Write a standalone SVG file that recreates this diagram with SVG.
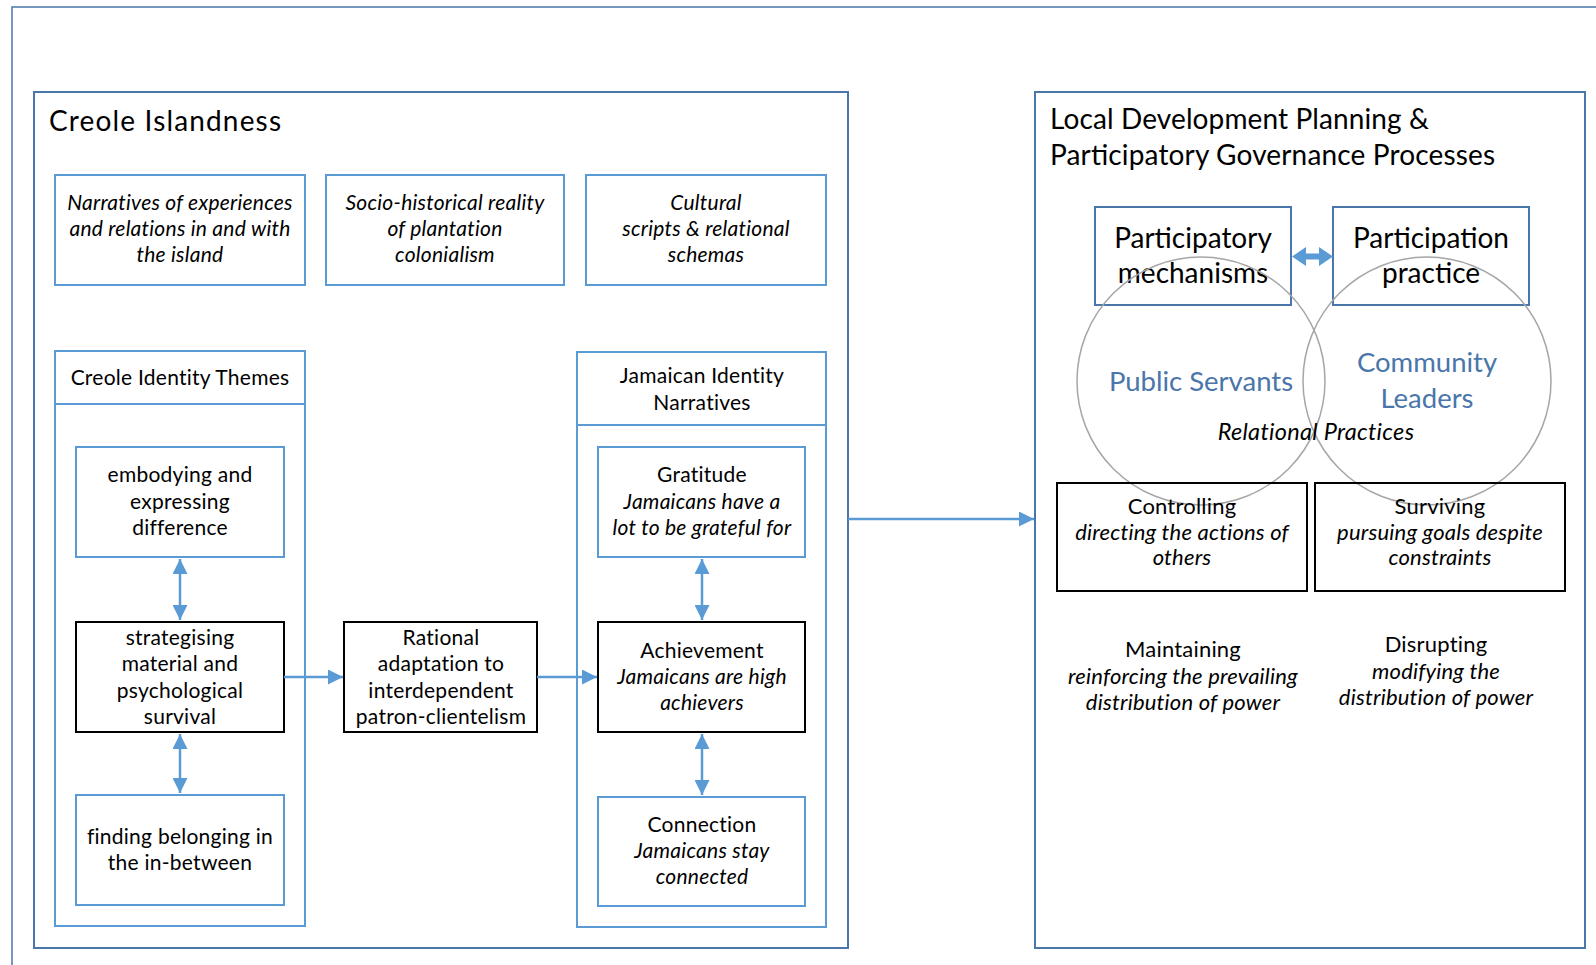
<svg xmlns="http://www.w3.org/2000/svg" width="1596" height="965" viewBox="0 0 1596 965">
  <defs>
    <style>
      .frame { fill: #fff; stroke: #4a76aa; stroke-width: 2; }
      .blue { fill: #fff; stroke: #5b9bd5; stroke-width: 2; }
      .dark { fill: #fff; stroke: #000; stroke-width: 2; }
      .circle { fill: none; stroke: #a6a6a6; stroke-width: 1.5; }
      .conn { stroke: #5b9bd5; stroke-width: 2.5; fill: none; }
      text { font-family: Lato, "Liberation Sans", sans-serif; fill: #000; }
      .t { font-size: 21px; letter-spacing: 0.25px; text-anchor: middle; }
      .r { font-size: 22px; letter-spacing: 0.2px; text-anchor: middle; }
      .i { font-style: italic; }
      .title { font-size: 28px; }
      .big { font-size: 28px; text-anchor: middle; }
      .role { font-size: 27.5px; text-anchor: middle; fill: #4a76aa; }
    </style>
    <marker id="head" viewBox="0 0 10 10" refX="10" refY="5" markerWidth="6" markerHeight="6" markerUnits="strokeWidth" orient="auto-start-reverse">
      <path d="M0,0 L10,5 L0,10 z" fill="#5b9bd5"/>
    </marker>
  </defs>

  <rect width="1596" height="965" fill="#fff"/>

  <!-- outer page frame -->
  <path d="M12,965 V7 H1596" fill="none" stroke="#4a76aa" stroke-width="1.5"/>

  <!-- Creole Islandness panel -->
  <g id="creole-islandness">
    <rect class="frame" x="34" y="92" width="814" height="856"/>
    <text class="title" x="49" y="131" textLength="232" lengthAdjust="spacing">Creole Islandness</text>
  </g>

  <g id="narratives">
    <rect class="blue" x="55" y="175" width="250" height="110"/>
    <text class="t i" x="180" y="210">Narratives of experiences</text>
    <text class="t i" x="180" y="236">and relations in and with</text>
    <text class="t i" x="180" y="262">the island</text>
  </g>

  <g id="socio-historical">
    <rect class="blue" x="326" y="175" width="238" height="110"/>
    <text class="t i" x="445" y="210">Socio-historical reality</text>
    <text class="t i" x="445" y="236">of plantation</text>
    <text class="t i" x="445" y="262">colonialism</text>
  </g>

  <g id="cultural-scripts">
    <rect class="blue" x="586" y="175" width="240" height="110"/>
    <text class="t i" x="706" y="210">Cultural</text>
    <text class="t i" x="706" y="236">scripts &amp; relational</text>
    <text class="t i" x="706" y="262">schemas</text>
  </g>

  <g id="creole-identity-themes">
    <rect class="blue" x="55" y="351" width="250" height="575"/>
    <line x1="55" y1="404" x2="305" y2="404" stroke="#5b9bd5" stroke-width="2"/>
    <text class="t" x="180" y="385">Creole Identity Themes</text>
  </g>

  <g id="jamaican-identity-narratives">
    <rect class="blue" x="577" y="352" width="249" height="575"/>
    <line x1="577" y1="425" x2="826" y2="425" stroke="#5b9bd5" stroke-width="2"/>
    <text class="t" x="702" y="383">Jamaican Identity</text>
    <text class="t" x="702" y="410">Narratives</text>
  </g>

  <g id="embodying">
    <rect class="blue" x="76" y="447" width="208" height="110"/>
    <text class="t" x="180" y="482">embodying and</text>
    <text class="t" x="180" y="509">expressing</text>
    <text class="t" x="180" y="535">difference</text>
  </g>

  <g id="strategising">
    <rect class="dark" x="76" y="622" width="208" height="110"/>
    <text class="t" x="180" y="645">strategising</text>
    <text class="t" x="180" y="671">material and</text>
    <text class="t" x="180" y="698">psychological</text>
    <text class="t" x="180" y="724">survival</text>
  </g>

  <g id="finding-belonging">
    <rect class="blue" x="76" y="795" width="208" height="110"/>
    <text class="t" x="180" y="844">finding belonging in</text>
    <text class="t" x="180" y="870">the in-between</text>
  </g>

  <g id="rational-adaptation">
    <rect class="dark" x="344" y="622" width="193" height="110"/>
    <text class="t" x="441" y="645">Rational</text>
    <text class="t" x="441" y="671">adaptation to</text>
    <text class="t" x="441" y="698">interdependent</text>
    <text class="t" x="441" y="724">patron-clientelism</text>
  </g>

  <g id="gratitude">
    <rect class="blue" x="598" y="447" width="207" height="110"/>
    <text class="t" x="702" y="482">Gratitude</text>
    <text class="t i" x="702" y="509">Jamaicans have a</text>
    <text class="t i" x="702" y="535">lot to be grateful for</text>
  </g>

  <g id="achievement">
    <rect class="dark" x="598" y="622" width="207" height="110"/>
    <text class="t" x="702" y="658">Achievement</text>
    <text class="t i" x="702" y="684">Jamaicans are high</text>
    <text class="t i" x="702" y="710">achievers</text>
  </g>

  <g id="connection">
    <rect class="blue" x="598" y="797" width="207" height="109"/>
    <text class="t" x="702" y="832">Connection</text>
    <text class="t i" x="702" y="858">Jamaicans stay</text>
    <text class="t i" x="702" y="884">connected</text>
  </g>

  <!-- Local Development Planning panel -->
  <g id="local-development">
    <rect class="frame" x="1035" y="92" width="550" height="856"/>
    <text class="title" x="1050" y="129" textLength="379" lengthAdjust="spacing">Local Development Planning &amp;</text>
    <text class="title" x="1050" y="165" textLength="445" lengthAdjust="spacing">Participatory Governance Processes</text>
  </g>

  <g id="participatory-mechanisms">
    <rect x="1095" y="207" width="196" height="98" fill="#fff" stroke="#4a76aa" stroke-width="2"/>
    <text class="big" x="1193" y="248">Participatory</text>
    <text class="big" x="1193" y="283">mechanisms</text>
  </g>

  <g id="participation-practice">
    <rect x="1333" y="207" width="196" height="98" fill="#fff" stroke="#4a76aa" stroke-width="2"/>
    <text class="big" x="1431" y="248">Participation</text>
    <text class="big" x="1431" y="283">practice</text>
  </g>

  <g id="public-servants">
    <circle class="circle" cx="1201" cy="381" r="124"/>
    <text class="role" x="1201" y="391">Public Servants</text>
  </g>

  <g id="community-leaders">
    <circle class="circle" cx="1427" cy="381" r="124"/>
    <text class="role" x="1427" y="372">Community</text>
    <text class="role" x="1427" y="408">Leaders</text>
  </g>

  <g id="relational-practices">
    <text class="i" x="1316" y="440" text-anchor="middle" style="font-size:23.5px;letter-spacing:0.3px">Relational Practices</text>
  </g>

  <g id="controlling">
    <rect x="1057" y="483" width="250" height="108" fill="none" stroke="#000" stroke-width="2"/>
    <text class="r" x="1182" y="514">Controlling</text>
    <text class="r i" x="1182" y="540">directing the actions of</text>
    <text class="r i" x="1182" y="565">others</text>
  </g>

  <g id="surviving">
    <rect x="1315" y="483" width="250" height="108" fill="none" stroke="#000" stroke-width="2"/>
    <text class="r" x="1440" y="514">Surviving</text>
    <text class="r i" x="1440" y="540">pursuing goals despite</text>
    <text class="r i" x="1440" y="565">constraints</text>
  </g>

  <g id="maintaining">
    <text class="r" x="1183" y="657">Maintaining</text>
    <text class="r i" x="1183" y="684">reinforcing the prevailing</text>
    <text class="r i" x="1183" y="710">distribution of power</text>
  </g>

  <g id="disrupting">
    <text class="r" x="1436" y="652">Disrupting</text>
    <text class="r i" x="1436" y="679">modifying the</text>
    <text class="r i" x="1436" y="705">distribution of power</text>
  </g>

  <!-- connectors -->
  <g id="connectors">
    <line class="conn" x1="180" y1="559" x2="180" y2="620" marker-start="url(#head)" marker-end="url(#head)"/>
    <line class="conn" x1="180" y1="734" x2="180" y2="793" marker-start="url(#head)" marker-end="url(#head)"/>
    <line class="conn" x1="702" y1="559" x2="702" y2="620" marker-start="url(#head)" marker-end="url(#head)"/>
    <line class="conn" x1="702" y1="734" x2="702" y2="795" marker-start="url(#head)" marker-end="url(#head)"/>
    <line class="conn" x1="284" y1="677" x2="343" y2="677" marker-end="url(#head)"/>
    <line class="conn" x1="537" y1="677" x2="597" y2="677" marker-end="url(#head)"/>
    <line class="conn" x1="848" y1="519" x2="1034" y2="519" marker-end="url(#head)"/>
    <!-- fat two-way arrow between the participation boxes -->
    <path d="M1292,256.5 L1306,247 L1306,253.5 L1319,253.5 L1319,247 L1333,256.5 L1319,266 L1319,259.5 L1306,259.5 L1306,266 Z" fill="#5b9bd5"/>
  </g>
</svg>
